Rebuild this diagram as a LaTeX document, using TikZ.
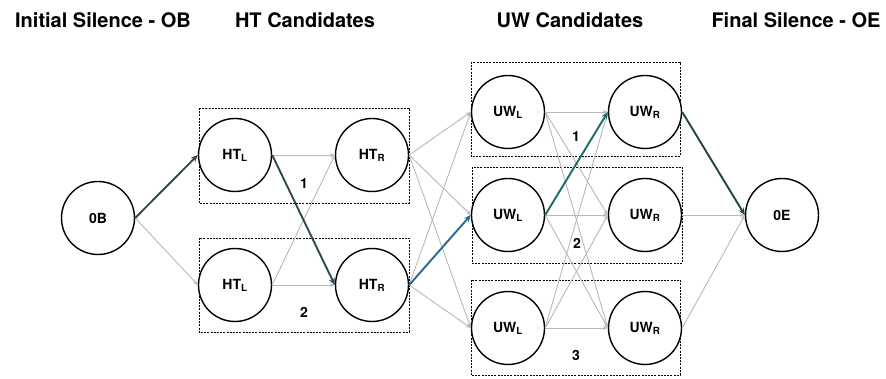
\documentclass[tikz,border=0pt]{standalone}
\usepackage{fontspec}
\setmainfont{TeX Gyre Heros}
\usetikzlibrary{arrows.meta}
\definecolor{pathA}{HTML}{2D4A50}
\definecolor{pathB}{HTML}{2A6B94}
\definecolor{pathC}{HTML}{1F6B68}
\definecolor{pathD}{HTML}{24444A}
\definecolor{faint}{HTML}{B8B8B8}
\tikzset{
  state/.style={circle, draw=black, line width=1.4pt, fill=white, minimum size=73pt, inner sep=0pt, font=\fontsize{14}{16}\selectfont\bfseries},
  group/.style={draw=black, line width=0.8pt, dash pattern=on 2pt off 1.2pt},
  title/.style={font=\fontsize{20}{22}\selectfont\bfseries},
  num/.style={font=\fontsize{14}{16}\selectfont\bfseries},
  weak/.style={draw=faint, line width=0.9pt, -{Stealth[length=5pt,width=4pt]}},
  best/.style={line width=1.9pt, -{Stealth[length=7pt,width=6pt]}},
}
\newcommand{\lab}[2]{#1\textsubscript{#2}}
\begin{document}
\begin{tikzpicture}[x=1pt,y=-1pt]
\useasboundingbox (0,0) rectangle (886,379);

% column headings
\node[title] (tOB) at (103,20) {Initial Silence - OB};
\node[title] (tHT) at (305,20) {HT Candidates};
\node[title] (tUW) at (570,20) {UW Candidates};
\node[title] (tOE) at (796,20) {Final Silence - OE};

% candidate groups
\draw[group] (199,108) rectangle (409,203);
\draw[group] (199,238) rectangle (409,332);
\draw[group] (471,62) rectangle (680,156);
\draw[group] (472,167) rectangle (682,263);
\draw[group] (471,280) rectangle (680,375);

\node[num] (n1) at (304,184) {1};
\node[num] (n2) at (304,312) {2};
\node[num] (u1) at (576,137) {1};
\node[num] (u2) at (577,243) {2};
\node[num] (u3) at (576,355) {3};

% states
\node[state] (OB) at (98,218) {0B};
\node[state] (HTL1) at (235,155) {\lab{HT}{L}};
\node[state] (HTR1) at (372,155) {\lab{HT}{R}};
\node[state] (HTL2) at (235,285) {\lab{HT}{L}};
\node[state] (HTR2) at (372,285) {\lab{HT}{R}};
\node[state] (UWL1) at (508,112) {\lab{UW}{L}};
\node[state] (UWR1) at (645,112) {\lab{UW}{R}};
\node[state] (UWL2) at (508,215) {\lab{UW}{L}};
\node[state] (UWR2) at (645,215) {\lab{UW}{R}};
\node[state] (UWL3) at (508,328) {\lab{UW}{L}};
\node[state] (UWR3) at (645,328) {\lab{UW}{R}};
\node[state] (OE) at (782,215) {0E};

% all transitions
\draw[weak] (OB.east) -- (HTL2.west);
\draw[weak] (HTL1.east) -- (HTR1.west);
\draw[weak] (HTL2.east) -- (HTR1.west);
\draw[weak] (HTL2.east) -- (HTR2.west);
\foreach \s in {HTR1,HTR2} {
  \foreach \t in {UWL1,UWL2,UWL3} {
    \draw[weak] (\s.east) -- (\t.west);
  }
}
\foreach \s in {UWL1,UWL2,UWL3} {
  \foreach \t in {UWR1,UWR2,UWR3} {
    \draw[weak] (\s.east) -- (\t.west);
  }
}
\draw[weak] (UWR2.east) -- (OE.west);
\draw[weak] (UWR3.east) -- (OE.west);

% best path
\draw[best, pathA] (OB.east) -- (HTL1.west);
\draw[best, pathA] (HTL1.east) -- (HTR2.west);
\draw[best, pathB] (HTR2.east) -- (UWL2.west);
\draw[best, pathC] (UWL2.east) -- (UWR1.west);
\draw[best, pathD] (UWR1.east) -- (OE.west);
\end{tikzpicture}
\end{document}
